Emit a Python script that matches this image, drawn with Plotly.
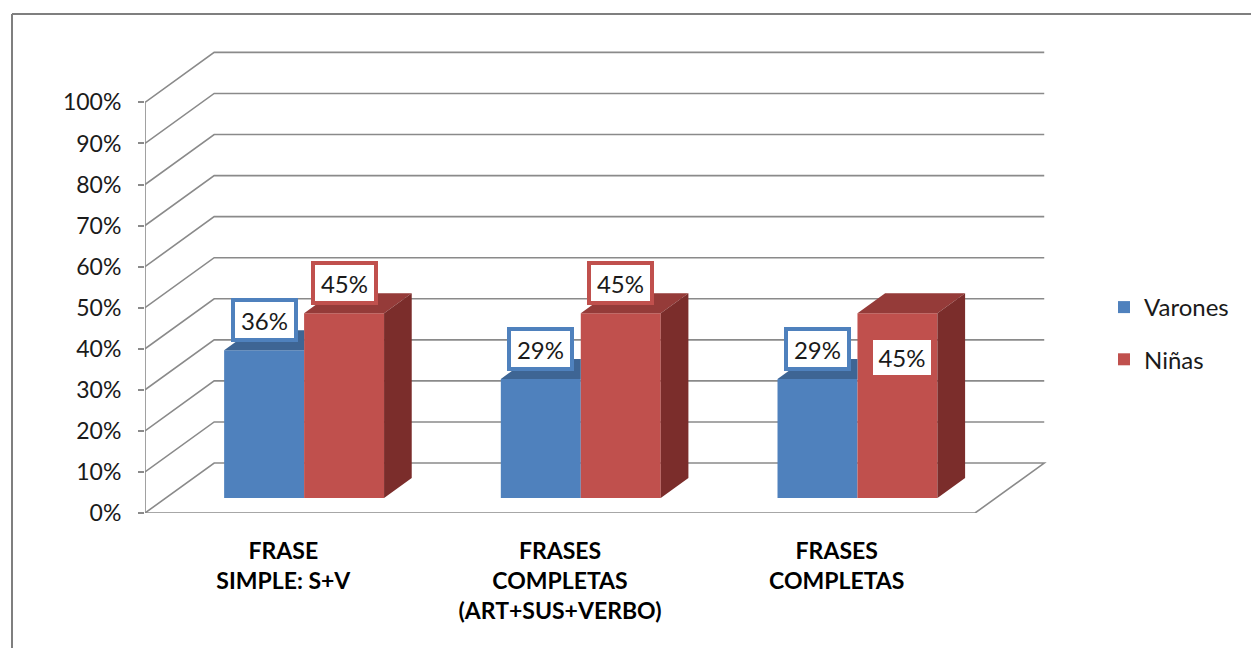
import plotly.graph_objects as go

# ---------------- data ----------------
categories = ["FRASE<br>SIMPLE: S+V",
              "FRASES<br>COMPLETAS<br>(ART+SUS+VERBO)",
              "FRASES<br>COMPLETAS"]
series_names = ["Varones", "Niñas"]
varones = [0.36, 0.29, 0.29]
ninas = [0.45, 0.45, 0.45]
y_ticks = [0.0, 0.1, 0.2, 0.3, 0.4, 0.5, 0.6, 0.7, 0.8, 0.9, 1.0]
y_tick_labels = ["0%", "10%", "20%", "30%", "40%", "50%", "60%", "70%", "80%", "90%", "100%"]
varones_labels = ["36%", "29%", "29%"]
ninas_labels = ["45%", "45%", "45%"]

# ---------------- styling / geometry ----------------
W, H = 1251, 648
ML, MT = 145, 49
MR = W - 1047
MB = H - 513
X_RANGE = [0, 3.26]
Y_RANGE = [0, 1.13]
PX_PER_Y = (H - MT - MB) / (Y_RANGE[1] - Y_RANGE[0])
PX_PER_X = (W - ML - MR) / (X_RANGE[1] - X_RANGE[0])

DX, DY = 0.25, 0.1217          # full depth of the 3-D box (x units, y units)
FRONT, DEPTH = 0.3, 0.4        # bar placement in depth (fraction)
BAR_W = 0.289
BLUE, BLUE_TOP = "#4F81BD", "#3E6594"
RED, RED_TOP, RED_SIDE = "#C0504D", "#953B39", "#7B2D2B"
GRID = "#8A8A8A"
FONT = "Lato"
TXT = "#1a1a1a"

n = len(categories)
off_x, off_y = FRONT * DX, FRONT * DY
ddx, ddy = DEPTH * DX, DEPTH * DY
base = off_y
cent = [i + 0.5 + off_x for i in range(n)]
xv = [c - BAR_W / 2 for c in cent]
xn = [c + BAR_W / 2 for c in cent]

fig = go.Figure()

# walls / floor gridlines (below traces)
shapes = []
for v in y_ticks:
    p = f"M0,{v} L{DX},{v + DY} L{DX + n},{v + DY}"
    if v == y_ticks[0]:
        p += f" L{n},{v}"
    shapes.append(dict(type="path", path=p, xref="x", yref="y", layer="below",
                       line=dict(color=GRID, width=1.6)))
# outer chart border: only left and top edges are inside the picture
px2x = lambda px: (px - ML) / (W - ML - MR)
py2y = lambda py: (H - MB - py) / (H - MT - MB)
for (ax0, ay0, ax1, ay1) in [(12, 14, 12, 700), (12, 14, 1300, 14)]:
    shapes.append(dict(type="line", xref="paper", yref="paper", layer="below",
                       x0=px2x(ax0), y0=py2y(ay0), x1=px2x(ax1), y1=py2y(ay1),
                       line=dict(color="#7F7F7F", width=2)))

# front faces
fig.add_trace(go.Bar(x=xv, y=varones, base=base, width=BAR_W, name=series_names[0],
                     marker=dict(color=BLUE, line=dict(width=0)), hoverinfo="skip",
                     legendgroup="v"))
fig.add_trace(go.Bar(x=xn, y=ninas, base=base, width=BAR_W, name=series_names[1],
                     marker=dict(color=RED, line=dict(width=0)), hoverinfo="skip",
                     legendgroup="n"))

def poly_trace(xs, ys, color):
    return go.Scatter(x=xs, y=ys, mode="lines", fill="toself", fillcolor=color,
                      line=dict(width=0, color=color), showlegend=False,
                      hoverinfo="skip")

# Varones top (clipped where hidden by Niñas)
tx, ty = [], []
for i in range(n):
    x0, x1, t = cent[i] - BAR_W, cent[i], base + varones[i]
    tx += [x0, x1, x1, x0 + ddx, x0, None]
    ty += [t, t, t + ddy, t + ddy, t, None]
fig.add_trace(poly_trace(tx, ty, BLUE_TOP))

# Niñas top and side
tx, ty, sx, sy = [], [], [], []
for i in range(n):
    x0, x1, t = cent[i], cent[i] + BAR_W, base + ninas[i]
    tx += [x0, x1, x1 + ddx, x0 + ddx, x0, None]
    ty += [t, t, t + ddy, t + ddy, t, None]
    sx += [x1, x1 + ddx, x1 + ddx, x1, x1, None]
    sy += [base, base + ddy, t + ddy, t, base, None]
fig.add_trace(poly_trace(tx, ty, RED_TOP))
fig.add_trace(poly_trace(sx, sy, RED_SIDE))

# front axes lines and category tick marks
ax_x = [0, 0, None, 0, n]
ax_y = [y_ticks[-1], 0, None, 0, 0]
tick_len = 6 / PX_PER_Y
for i in range(n + 1):
    ax_x += [None, i, i]
    ax_y += [None, 0, -tick_len]
fig.add_trace(go.Scatter(x=ax_x, y=ax_y, mode="lines", line=dict(color=GRID, width=1.6),
                         showlegend=False, hoverinfo="skip", cliponaxis=False))

# data labels
annotations = []
lab_up = 30 / PX_PER_Y
LBL_FONT = dict(family=FONT, size=24, color=TXT)
for i in range(n):
    annotations.append(dict(x=cent[i] - BAR_W / 2, y=base + varones[i] + lab_up,
                            xref="x", yref="y", text=varones_labels[i], showarrow=False,
                            font=LBL_FONT, bgcolor="white", bordercolor=BLUE,
                            borderwidth=4, borderpad=3, width=53, height=30))
    if i < n - 1:
        annotations.append(dict(x=cent[i] + BAR_W / 2, y=base + ninas[i] + lab_up,
                                xref="x", yref="y", text=ninas_labels[i], showarrow=False,
                                font=LBL_FONT, bgcolor="white", bordercolor=RED,
                                borderwidth=4, borderpad=3, width=53, height=30))
    else:
        annotations.append(dict(x=cent[i] + BAR_W / 2 + 5 / PX_PER_X,
                                y=base + ninas[i] - 44 / PX_PER_Y,
                                xref="x", yref="y", text=ninas_labels[i], showarrow=False,
                                font=LBL_FONT, bgcolor="white", borderwidth=0,
                                borderpad=3, width=52, height=29))

fig.update_layout(
    width=W, height=H,
    margin=dict(l=ML, r=MR, t=MT, b=MB, autoexpand=False),
    paper_bgcolor="white", plot_bgcolor="white",
    barmode="overlay",
    shapes=shapes,
    annotations=annotations,
    showlegend=True,
    legend=dict(x=px2x(1104), y=py2y(285), xanchor="left", yanchor="top",
                font=dict(family=FONT, size=24, color=TXT),
                traceorder="grouped", tracegroupgap=18,
                bgcolor="rgba(0,0,0,0)"),
    xaxis=dict(range=X_RANGE, showgrid=False, zeroline=False, showline=False,
               tickvals=[i + 0.5 for i in range(n)], ticktext=categories,
               ticks="", ticklabelstandoff=22,
               tickfont=dict(family=FONT, size=23, color="#000000", weight="bold")),
    yaxis=dict(range=Y_RANGE, showgrid=False, zeroline=False, showline=False,
               tickvals=y_ticks, ticktext=y_tick_labels,
               ticks="outside", ticklen=6, tickwidth=1.6, tickcolor=GRID,
               ticklabelstandoff=12,
               tickfont=dict(family=FONT, size=23, color=TXT)),
)

fig.write_html("out.html",
               config={"displayModeBar": False},
               post_script="document.body.style.margin='0';document.body.style.overflow='hidden';")
